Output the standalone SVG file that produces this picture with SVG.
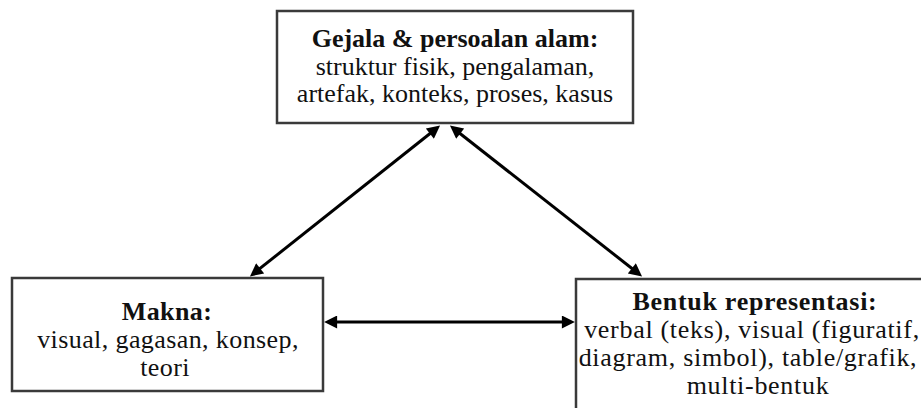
<svg xmlns="http://www.w3.org/2000/svg" width="921" height="408" viewBox="0 0 921 408">
<style>
.box{fill:#fff;stroke:#3a3a3a;stroke-width:2.5}
.t{font-family:"Liberation Serif","Times New Roman",serif;fill:#111;text-anchor:middle;font-size:26px}
.b{font-weight:bold}
.l{letter-spacing:0.4px}
.r{letter-spacing:0.7px}
.c{stroke:#000;stroke-width:3;fill:none;marker-start:url(#ah);marker-end:url(#ah)}
</style>
<defs>
<marker id="ah" viewBox="0 0 10 10" refX="7" refY="5" markerUnits="userSpaceOnUse" markerWidth="16" markerHeight="13" orient="auto-start-reverse">
<path d="M0,0 L10,5 L0,10 z" fill="#000"/>
</marker>
</defs>
<rect width="921" height="408" fill="#fff"/>
<g id="gejala">
<rect class="box" x="277" y="11" width="356" height="112"/>
<text class="t b" x="455" y="47">Gejala &amp; persoalan alam:</text>
<text class="t" x="455" y="74.5">struktur fisik, pengalaman,</text>
<text class="t" x="455" y="102">artefak, konteks, proses, kasus</text>
</g>
<g id="makna">
<rect class="box" x="12" y="278" width="311" height="113"/>
<text class="t b l" x="167" y="320">Makna:</text>
<text class="t l" x="168" y="348">visual, gagasan, konsep,</text>
<text class="t l" x="165" y="375.5">teori</text>
</g>
<g id="bentuk">
<rect class="box" x="576" y="279" width="370" height="140"/>
<text class="t b r" x="755" y="310">Bentuk representasi:</text>
<text class="t r" x="752" y="338">verbal (teks), visual (figuratif,</text>
<text class="t r" x="748" y="366">diagram, simbol), table/grafik,</text>
<text class="t r" x="758" y="394">multi-bentuk</text>
</g>
<g id="connectors">
<line class="c" x1="437" y1="128" x2="253" y2="274"/>
<line class="c" x1="453" y1="128" x2="639" y2="274"/>
<line class="c" x1="328" y1="322" x2="571" y2="322"/>
</g>
</svg>
